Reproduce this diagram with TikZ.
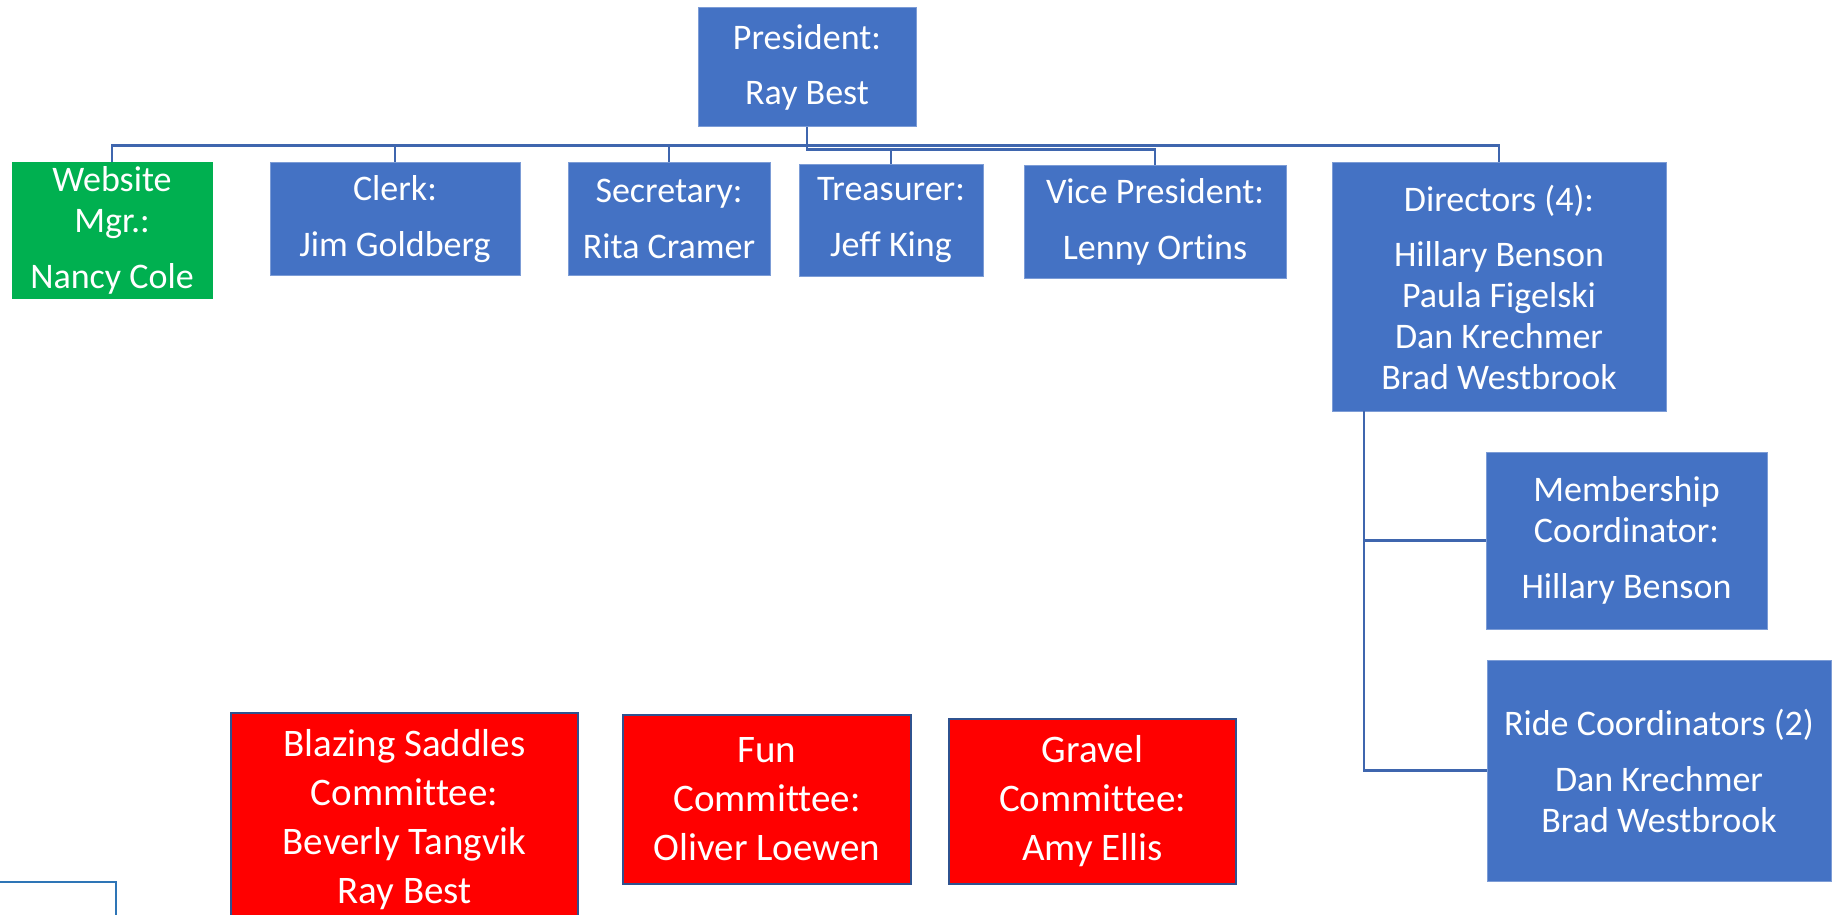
\documentclass[tikz,border=0pt]{standalone}
\usepackage{fontspec}
\setmainfont[Ligatures=NoCommon]{Carlito}
\usetikzlibrary{positioning}

\definecolor{officeblue}{HTML}{4472C4}
\definecolor{officegreen}{HTML}{00B050}
\definecolor{linkblue}{HTML}{3F66AE}
\definecolor{boxedge}{HTML}{2F528F}
\definecolor{frameblue}{HTML}{2E75B6}

\tikzset{
  wh/.style 2 args={minimum width=#1*0.5pt, minimum height=#2*0.5pt},
  post/.style={fill=officeblue, draw=officeblue!70!white, line width=0.5pt, text=white, align=center, inner sep=0pt, font=\fontsize{18}{20.5}\selectfont},
  webpost/.style={post, fill=officegreen, draw=officegreen},
  cttee/.style={fill=red, draw=boxedge, line width=1pt, text=white, align=center, inner sep=0pt, font=\fontsize{19.5}{24.5}\selectfont},
  link/.style={draw=linkblue, line width=1.2pt},
}

\begin{document}
\begin{tikzpicture}[x=0.5pt,y=-0.5pt]
%\draw[help lines] (0,0) grid (1837,915);
\useasboundingbox (0,0) rectangle (1837,915);
\clip (0,0) rectangle (1837,915);

% officers
\node[post, wh={218}{119}] at (807,67.5) (pres) {President:\\[7pt]Ray Best};
\node[webpost, wh={200}{135}] at (112,230.5) (web) {Website\\Mgr.:\\[7.5pt]Nancy Cole};
\node[post, wh={250}{112}] at (395,219) (clerk) {Clerk:\\[7.5pt]Jim Goldberg};
\node[post, wh={202}{112}] at (669,219) (sec) {Secretary:\\[7.5pt]Rita Cramer};
\node[post, wh={184}{111}] at (891,220.5) (treas) {Treasurer:\\[7.5pt]Jeff King};
\node[post, wh={262}{112}] at (1155,222) (vp) {Vice President:\\[7.5pt]Lenny Ortins};
\node[post, wh={334}{248}] at (1499,287) (dir) {Directors (4):\\[7pt]Hillary Benson\\Paula Figelski\\Dan Krechmer\\Brad Westbrook};

% coordinators
\node[post, wh={281}{177}] at (1626.5,540.5) (memb) {Membership\\Coordinator:\\[7.5pt]Hillary Benson};
\node[post, wh={344}{221}] at (1659,770.5) (ride) {Ride Coordinators (2)\\[7.5pt]Dan Krechmer\\Brad Westbrook};

% committees
\node[cttee, wh={347}{214}] at (404.5,820) (blaze) {Blazing Saddles\\Committee:\\Beverly Tangvik\\Ray Best};
\node[cttee, wh={288}{169}] at (767,799) (fun) {Fun\\Committee:\\Oliver Loewen};
\node[cttee, wh={287}{165}] at (1092.5,801) (gravel) {Gravel\\Committee:\\Amy Ellis};

% links
\draw[link] (pres.south) -- ++(0,18) -| (web.north);
\draw[link] (pres.south) -- ++(0,18) -| (clerk.north);
\draw[link] (pres.south) -- ++(0,18) -| (sec.north);
\draw[link] (pres.south) -- ++(0,22) -| (treas.north);
\draw[link] (pres.south) -- ++(0,22) -| (vp.north);
\draw[link] (pres.south) -- ++(0,18) -| (dir.north);

\coordinate (trunk) at (1364,411);
\draw[link] (trunk) |- (memb.west);
\draw[link] (trunk) |- (ride.west);

% cut-off frame, lower left
\draw[frameblue, line width=0.8pt] (-5,882) rectangle (116,930);
\end{tikzpicture}
\end{document}
